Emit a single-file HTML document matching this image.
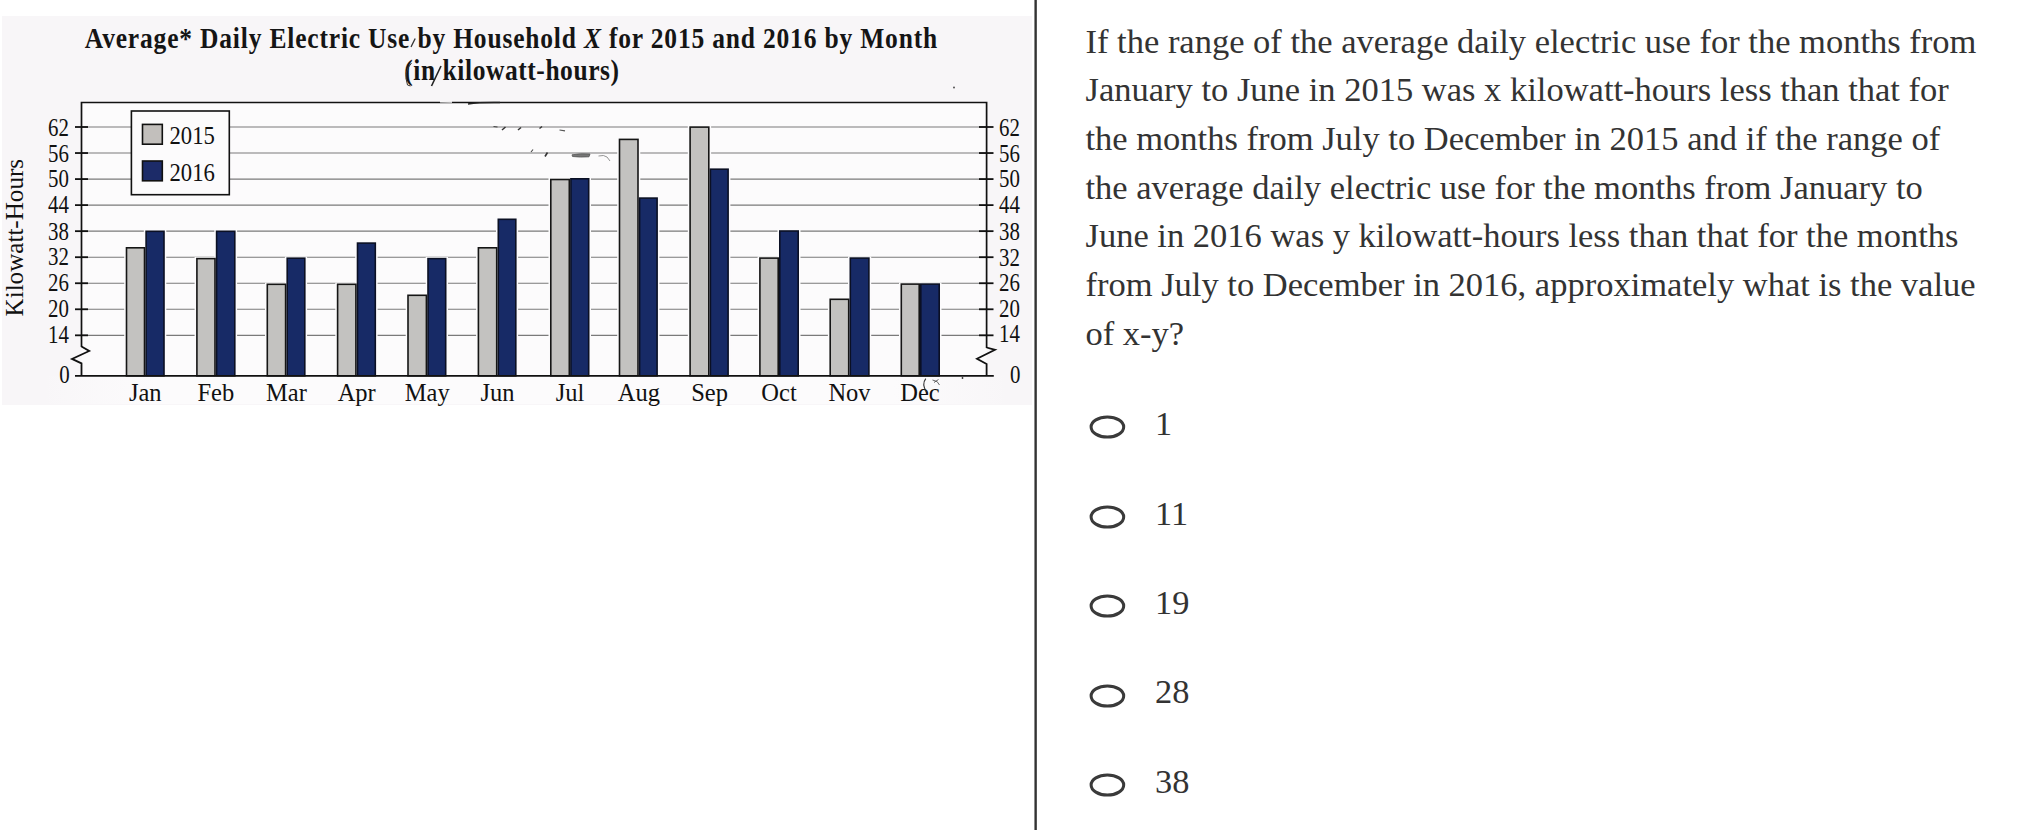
<!DOCTYPE html>
<html><head><meta charset="utf-8"><style>
html,body{margin:0;padding:0;background:#fff;width:2038px;height:830px;overflow:hidden;position:relative}
.chart{position:absolute;left:0;top:0}
.ax{font-family:"Liberation Serif",serif;font-size:25.5px;fill:#111}
.mo{font-family:"Liberation Serif",serif;font-size:24.5px;fill:#111}
.lg{font-family:"Liberation Serif",serif;font-size:25.5px;fill:#111}
.ti{font-family:"Liberation Serif",serif;font-size:29.3px;font-weight:bold;fill:#151515}
.yt{font-family:"Liberation Serif",serif;font-size:25.1px;fill:#111}
.divider{position:absolute;left:1034px;top:0;width:3px;height:830px;background:linear-gradient(90deg,#8a8a8a 0,#8a8a8a 33.3%,#333 33.3%,#333 66.6%,#555 66.6%,#555 100%)}
.q{position:absolute;left:1085.5px;top:16.5px;font-family:"Liberation Serif",serif;font-size:34.5px;line-height:48.68px;color:#333;white-space:nowrap}
.rad{position:absolute}
.opt{position:absolute;left:1155px;font-family:"Liberation Serif",serif;font-size:34.4px;line-height:48.5px;color:#333;white-space:nowrap}
</style></head><body>
<svg class="chart" width="1034" height="410" viewBox="0 0 1034 410">
<rect x="2" y="16" width="1030" height="389" fill="#f8f6f8"/>
<rect x="81.5" y="102.5" width="905.1" height="273.3" fill="#fcfbfc"/>
<defs><linearGradient id="wg" x1="0" x2="1" y1="0" y2="0"><stop offset="0" stop-color="#fcfbfc" stop-opacity="0"/><stop offset="0.12" stop-color="#fcfbfc" stop-opacity="1"/><stop offset="0.88" stop-color="#fcfbfc" stop-opacity="1"/><stop offset="1" stop-color="#fcfbfc" stop-opacity="0"/></linearGradient></defs>
<rect x="40" y="375.8" width="970" height="28.19999999999999" fill="url(#wg)"/>
<line x1="81.5" y1="127.00" x2="986.6" y2="127.00" stroke="#7a7a7a" stroke-width="1.15"/>
<line x1="81.5" y1="153.04" x2="986.6" y2="153.04" stroke="#7a7a7a" stroke-width="1.15"/>
<line x1="81.5" y1="179.08" x2="986.6" y2="179.08" stroke="#7a7a7a" stroke-width="1.15"/>
<line x1="81.5" y1="205.12" x2="986.6" y2="205.12" stroke="#7a7a7a" stroke-width="1.15"/>
<line x1="81.5" y1="231.16" x2="986.6" y2="231.16" stroke="#7a7a7a" stroke-width="1.15"/>
<line x1="81.5" y1="257.20" x2="986.6" y2="257.20" stroke="#7a7a7a" stroke-width="1.15"/>
<line x1="81.5" y1="283.24" x2="986.6" y2="283.24" stroke="#7a7a7a" stroke-width="1.15"/>
<line x1="81.5" y1="309.28" x2="986.6" y2="309.28" stroke="#7a7a7a" stroke-width="1.15"/>
<line x1="81.5" y1="335.32" x2="986.6" y2="335.32" stroke="#7a7a7a" stroke-width="1.15"/>
<rect x="124.20" y="246.20" width="22.60" height="129.60" fill="#fcfbfc"/>
<rect x="143.80" y="229.70" width="22.50" height="146.10" fill="#fcfbfc"/>
<rect x="194.60" y="257.00" width="22.70" height="118.80" fill="#fcfbfc"/>
<rect x="214.30" y="229.70" width="22.80" height="146.10" fill="#fcfbfc"/>
<rect x="265.00" y="282.70" width="22.90" height="93.10" fill="#fcfbfc"/>
<rect x="284.90" y="256.60" width="22.20" height="119.20" fill="#fcfbfc"/>
<rect x="335.30" y="282.70" width="22.90" height="93.10" fill="#fcfbfc"/>
<rect x="355.20" y="241.50" width="22.40" height="134.30" fill="#fcfbfc"/>
<rect x="405.70" y="293.70" width="23.00" height="82.10" fill="#fcfbfc"/>
<rect x="425.70" y="257.00" width="22.30" height="118.80" fill="#fcfbfc"/>
<rect x="476.10" y="246.20" width="22.90" height="129.60" fill="#fcfbfc"/>
<rect x="496.00" y="217.70" width="22.10" height="158.10" fill="#fcfbfc"/>
<rect x="548.50" y="177.90" width="23.10" height="197.90" fill="#fcfbfc"/>
<rect x="568.60" y="177.20" width="22.40" height="198.60" fill="#fcfbfc"/>
<rect x="617.20" y="137.80" width="23.10" height="238.00" fill="#fcfbfc"/>
<rect x="637.30" y="196.50" width="22.10" height="179.30" fill="#fcfbfc"/>
<rect x="687.80" y="125.50" width="23.30" height="250.30" fill="#fcfbfc"/>
<rect x="708.10" y="167.60" width="22.30" height="208.20" fill="#fcfbfc"/>
<rect x="757.60" y="256.50" width="22.90" height="119.30" fill="#fcfbfc"/>
<rect x="777.50" y="229.40" width="23.00" height="146.40" fill="#fcfbfc"/>
<rect x="827.90" y="297.70" width="23.10" height="78.10" fill="#fcfbfc"/>
<rect x="848.00" y="256.50" width="23.20" height="119.30" fill="#fcfbfc"/>
<rect x="899.00" y="282.50" width="22.50" height="93.30" fill="#fcfbfc"/>
<rect x="918.50" y="282.50" width="23.00" height="93.30" fill="#fcfbfc"/>
<rect x="126.50" y="247.80" width="18.00" height="128.00" fill="#c3c2c0" stroke="#151515" stroke-width="1.6"/>
<rect x="146.10" y="231.30" width="17.90" height="144.50" fill="#172a66" stroke="#0b1024" stroke-width="1.6"/>
<rect x="196.90" y="258.60" width="18.10" height="117.20" fill="#c3c2c0" stroke="#151515" stroke-width="1.6"/>
<rect x="216.60" y="231.30" width="18.20" height="144.50" fill="#172a66" stroke="#0b1024" stroke-width="1.6"/>
<rect x="267.30" y="284.30" width="18.30" height="91.50" fill="#c3c2c0" stroke="#151515" stroke-width="1.6"/>
<rect x="287.20" y="258.20" width="17.60" height="117.60" fill="#172a66" stroke="#0b1024" stroke-width="1.6"/>
<rect x="337.60" y="284.30" width="18.30" height="91.50" fill="#c3c2c0" stroke="#151515" stroke-width="1.6"/>
<rect x="357.50" y="243.10" width="17.80" height="132.70" fill="#172a66" stroke="#0b1024" stroke-width="1.6"/>
<rect x="408.00" y="295.30" width="18.40" height="80.50" fill="#c3c2c0" stroke="#151515" stroke-width="1.6"/>
<rect x="428.00" y="258.60" width="17.70" height="117.20" fill="#172a66" stroke="#0b1024" stroke-width="1.6"/>
<rect x="478.40" y="247.80" width="18.30" height="128.00" fill="#c3c2c0" stroke="#151515" stroke-width="1.6"/>
<rect x="498.30" y="219.30" width="17.50" height="156.50" fill="#172a66" stroke="#0b1024" stroke-width="1.6"/>
<rect x="550.80" y="179.50" width="18.50" height="196.30" fill="#c3c2c0" stroke="#151515" stroke-width="1.6"/>
<rect x="570.90" y="178.80" width="17.80" height="197.00" fill="#172a66" stroke="#0b1024" stroke-width="1.6"/>
<rect x="619.50" y="139.40" width="18.50" height="236.40" fill="#c3c2c0" stroke="#151515" stroke-width="1.6"/>
<rect x="639.60" y="198.10" width="17.50" height="177.70" fill="#172a66" stroke="#0b1024" stroke-width="1.6"/>
<rect x="690.10" y="127.10" width="18.70" height="248.70" fill="#c3c2c0" stroke="#151515" stroke-width="1.6"/>
<rect x="710.40" y="169.20" width="17.70" height="206.60" fill="#172a66" stroke="#0b1024" stroke-width="1.6"/>
<rect x="759.90" y="258.10" width="18.30" height="117.70" fill="#c3c2c0" stroke="#151515" stroke-width="1.6"/>
<rect x="779.80" y="231.00" width="18.40" height="144.80" fill="#172a66" stroke="#0b1024" stroke-width="1.6"/>
<rect x="830.20" y="299.30" width="18.50" height="76.50" fill="#c3c2c0" stroke="#151515" stroke-width="1.6"/>
<rect x="850.30" y="258.10" width="18.60" height="117.70" fill="#172a66" stroke="#0b1024" stroke-width="1.6"/>
<rect x="901.30" y="284.10" width="17.90" height="91.70" fill="#c3c2c0" stroke="#151515" stroke-width="1.6"/>
<rect x="920.80" y="284.10" width="18.40" height="91.70" fill="#172a66" stroke="#0b1024" stroke-width="1.6"/>
<path d="M81.5,347 L81.5,102.5 L986.6,102.5 L986.6,348" fill="none" stroke="#111" stroke-width="1.7"/>
<path d="M81.5,346.5 L89.2,351 L72,358.9 L81.5,363.4 L81.5,375.8" fill="none" stroke="#111" stroke-width="1.8" stroke-linejoin="miter"/>
<path d="M986.6,347.5 L995,349.8 L977,358.8 L986.6,364 L986.6,375.8" fill="none" stroke="#111" stroke-width="1.8"/>
<line x1="75" y1="375.8" x2="993.8" y2="375.8" stroke="#111" stroke-width="1.8"/>
<line x1="75" y1="127.00" x2="88" y2="127.00" stroke="#111" stroke-width="1.8"/>
<line x1="979" y1="127.00" x2="993.5" y2="127.00" stroke="#111" stroke-width="1.8"/>
<line x1="75" y1="153.04" x2="88" y2="153.04" stroke="#111" stroke-width="1.8"/>
<line x1="979" y1="153.04" x2="993.5" y2="153.04" stroke="#111" stroke-width="1.8"/>
<line x1="75" y1="179.08" x2="88" y2="179.08" stroke="#111" stroke-width="1.8"/>
<line x1="979" y1="179.08" x2="993.5" y2="179.08" stroke="#111" stroke-width="1.8"/>
<line x1="75" y1="205.12" x2="88" y2="205.12" stroke="#111" stroke-width="1.8"/>
<line x1="979" y1="205.12" x2="993.5" y2="205.12" stroke="#111" stroke-width="1.8"/>
<line x1="75" y1="231.16" x2="88" y2="231.16" stroke="#111" stroke-width="1.8"/>
<line x1="979" y1="231.16" x2="993.5" y2="231.16" stroke="#111" stroke-width="1.8"/>
<line x1="75" y1="257.20" x2="88" y2="257.20" stroke="#111" stroke-width="1.8"/>
<line x1="979" y1="257.20" x2="993.5" y2="257.20" stroke="#111" stroke-width="1.8"/>
<line x1="75" y1="283.24" x2="88" y2="283.24" stroke="#111" stroke-width="1.8"/>
<line x1="979" y1="283.24" x2="993.5" y2="283.24" stroke="#111" stroke-width="1.8"/>
<line x1="75" y1="309.28" x2="88" y2="309.28" stroke="#111" stroke-width="1.8"/>
<line x1="979" y1="309.28" x2="993.5" y2="309.28" stroke="#111" stroke-width="1.8"/>
<line x1="75" y1="335.32" x2="88" y2="335.32" stroke="#111" stroke-width="1.8"/>
<line x1="979" y1="335.32" x2="993.5" y2="335.32" stroke="#111" stroke-width="1.8"/>
<text transform="translate(69,136.40) scale(0.82,1)" text-anchor="end" class="ax">62</text>
<text transform="translate(1020,136.40) scale(0.82,1)" text-anchor="end" class="ax">62</text>
<text transform="translate(69,162.14) scale(0.82,1)" text-anchor="end" class="ax">56</text>
<text transform="translate(1020,161.94) scale(0.82,1)" text-anchor="end" class="ax">56</text>
<text transform="translate(69,187.48) scale(0.82,1)" text-anchor="end" class="ax">50</text>
<text transform="translate(1020,187.48) scale(0.82,1)" text-anchor="end" class="ax">50</text>
<text transform="translate(69,213.12) scale(0.82,1)" text-anchor="end" class="ax">44</text>
<text transform="translate(1020,213.32) scale(0.82,1)" text-anchor="end" class="ax">44</text>
<text transform="translate(69,239.56) scale(0.82,1)" text-anchor="end" class="ax">38</text>
<text transform="translate(1020,239.56) scale(0.82,1)" text-anchor="end" class="ax">38</text>
<text transform="translate(69,265.30) scale(0.82,1)" text-anchor="end" class="ax">32</text>
<text transform="translate(1020,265.60) scale(0.82,1)" text-anchor="end" class="ax">32</text>
<text transform="translate(69,291.34) scale(0.82,1)" text-anchor="end" class="ax">26</text>
<text transform="translate(1020,291.24) scale(0.82,1)" text-anchor="end" class="ax">26</text>
<text transform="translate(69,316.68) scale(0.82,1)" text-anchor="end" class="ax">20</text>
<text transform="translate(1020,316.88) scale(0.82,1)" text-anchor="end" class="ax">20</text>
<text transform="translate(69,342.52) scale(0.82,1)" text-anchor="end" class="ax">14</text>
<text transform="translate(1020,342.42) scale(0.82,1)" text-anchor="end" class="ax">14</text>
<text transform="translate(69.6,382.80) scale(0.82,1)" text-anchor="end" class="ax">0</text>
<text transform="translate(1020.5,382.80) scale(0.82,1)" text-anchor="end" class="ax">0</text>
<text x="145.30" y="400.6" text-anchor="middle" class="mo">Jan</text>
<text x="215.80" y="400.6" text-anchor="middle" class="mo">Feb</text>
<text x="286.40" y="400.6" text-anchor="middle" class="mo">Mar</text>
<text x="356.70" y="400.6" text-anchor="middle" class="mo">Apr</text>
<text x="427.20" y="400.6" text-anchor="middle" class="mo">May</text>
<text x="497.50" y="400.6" text-anchor="middle" class="mo">Jun</text>
<text x="570.10" y="400.6" text-anchor="middle" class="mo">Jul</text>
<text x="638.80" y="400.6" text-anchor="middle" class="mo">Aug</text>
<text x="709.60" y="400.6" text-anchor="middle" class="mo">Sep</text>
<text x="779.00" y="400.6" text-anchor="middle" class="mo">Oct</text>
<text x="849.50" y="400.6" text-anchor="middle" class="mo">Nov</text>
<text x="920.00" y="400.6" text-anchor="middle" class="mo">Dec</text>
<rect x="131.4" y="111" width="97.9" height="83.7" fill="#fcfbfc" stroke="#111" stroke-width="1.6"/>
<rect x="142.5" y="124.4" width="19.8" height="19.8" fill="#c2bfbc" stroke="#111" stroke-width="1.6"/>
<rect x="142.5" y="161" width="19.8" height="19.8" fill="#1c2b68" stroke="#111" stroke-width="1.6"/>
<text transform="translate(169.5,143.8) scale(0.89,1)" class="lg">2015</text>
<text transform="translate(169.5,180.8) scale(0.89,1)" class="lg">2016</text>
<text transform="translate(511.4,48.1) scale(0.87,1)" text-anchor="middle" class="ti" letter-spacing="0.95">Average* Daily Electric Use by Household <tspan font-style="italic">X</tspan> for 2015 and 2016 by Month</text>
<text transform="translate(511.9,80.1) scale(0.87,1)" text-anchor="middle" class="ti" letter-spacing="0.65">(in kilowatt-hours)</text>
<text transform="translate(23.3,237.7) rotate(-90)" text-anchor="middle" class="yt">Kilowatt-Hours</text>
<path d="M925.8,378.7 Q921.5,384 926.4,391.9" fill="none" stroke="#333" stroke-width="1.1"/>
<path d="M932.5,380 L937,381.5 L939.5,385 M934,382.5 L938.5,379.5" fill="none" stroke="#555" stroke-width="0.9"/>
<circle cx="962.5" cy="378" r="0.9" fill="#333"/>
<path d="M415.2,38.5 L411,47" stroke="#333" stroke-width="1.3"/>
<path d="M441,66 L431.5,86" stroke="#222" stroke-width="1.6"/>
<path d="M411.5,63 Q403,72 407.5,85 L410.5,86" fill="none" stroke="#333" stroke-width="1.0"/>
<path d="M493.5,126.5 L497.5,127" stroke="#444" stroke-width="1.2"/>
<path d="M505.5,127 L502,130" stroke="#333" stroke-width="1.5"/>
<path d="M521,127.5 L518,130" stroke="#333" stroke-width="1.5"/>
<path d="M542,126.5 L539.5,128.5" stroke="#333" stroke-width="1.4"/>
<path d="M559.5,130 L565,130.8" stroke="#555" stroke-width="1.2"/>
<path d="M533,149.5 L531,152" stroke="#444" stroke-width="1.1"/>
<path d="M547.5,152.5 L545,156.5" stroke="#333" stroke-width="1.6"/>
<path d="M572,154.8 Q580,153.2 590,154 L589,156.8 Q580,157.5 572.5,156.5 Z" fill="#777" stroke="#555" stroke-width="0.8"/>
<path d="M598.5,156 Q604,154.5 607,157 L610,161" fill="none" stroke="#888" stroke-width="0.9"/>
<path d="M440,101.8 L452,102" stroke="#fcfbfc" stroke-width="1.6"/>
<path d="M468,104 Q480,102.3 500,102.6" fill="none" stroke="#222" stroke-width="1.5"/>
<circle cx="954" cy="87.5" r="0.9" fill="#444"/>
</svg>
<div class="divider"></div>
<div class="q">If the range of the average daily electric use for the months from<br>January to June in 2015 was x kilowatt-hours less than that for<br>the months from July to December in 2015 and if the range of<br>the average daily electric use for the months from January to<br>June in 2016 was y kilowatt-hours less than that for the months<br>from July to December in 2016, approximately what is the value<br>of x-y?</div>
<svg class="rad" style="left:1087px;top:413.3px" width="42" height="28"><ellipse cx="20.4" cy="14" rx="16.3" ry="10.1" fill="none" stroke="#3a3a3a" stroke-width="3"/></svg><div class="opt" style="top:398.94px">1</div><svg class="rad" style="left:1087px;top:502.9px" width="42" height="28"><ellipse cx="20.4" cy="14" rx="16.3" ry="10.1" fill="none" stroke="#3a3a3a" stroke-width="3"/></svg><div class="opt" style="top:488.54px">11</div><svg class="rad" style="left:1087px;top:592.2px" width="42" height="28"><ellipse cx="20.4" cy="14" rx="16.3" ry="10.1" fill="none" stroke="#3a3a3a" stroke-width="3"/></svg><div class="opt" style="top:578.24px">19</div><svg class="rad" style="left:1087px;top:681.5px" width="42" height="28"><ellipse cx="20.4" cy="14" rx="16.3" ry="10.1" fill="none" stroke="#3a3a3a" stroke-width="3"/></svg><div class="opt" style="top:666.94px">28</div><svg class="rad" style="left:1087px;top:770.7px" width="42" height="28"><ellipse cx="20.4" cy="14" rx="16.3" ry="10.1" fill="none" stroke="#3a3a3a" stroke-width="3"/></svg><div class="opt" style="top:756.84px">38</div>
</body></html>
